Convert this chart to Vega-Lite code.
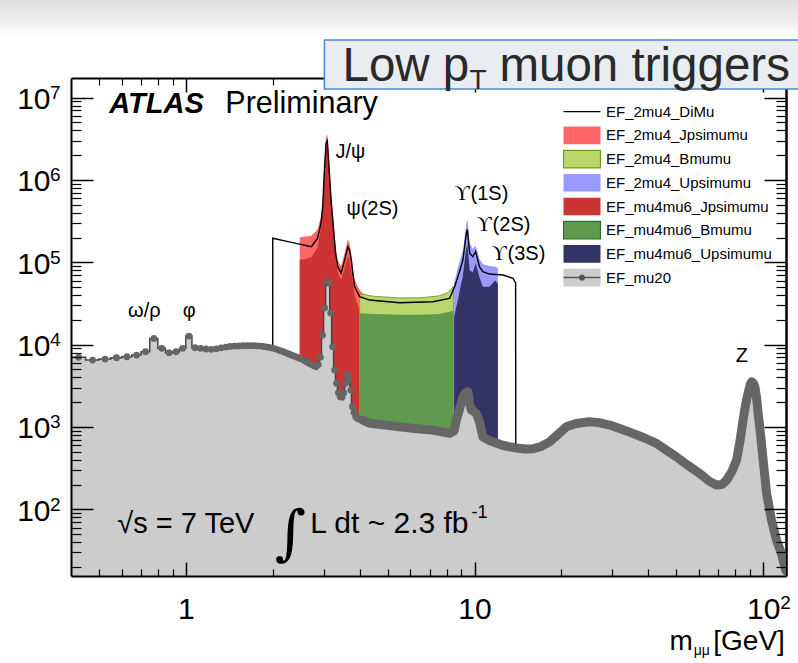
{
  "$schema": "https://vega.github.io/schema/vega-lite/v6.json",
  "width": 715,
  "height": 498,
  "autosize": {"type": "none"},
  "padding": {"left": 71, "top": 78, "right": 12, "bottom": 87},
  "background": "white",
  "config": {
    "view": {"stroke": null},
    "axis": {"grid": false, "labelFont": "Liberation Sans", "labelColor": "black", "tickColor": "black", "domainColor": "black"},
    "text": {"font": "Liberation Sans", "color": "black"}
  },
  "datasets": {
    "triggers": [
      {"trigger": "EF_2mu4_DiMu"},
      {"trigger": "EF_2mu4_Jpsimumu"},
      {"trigger": "EF_2mu4_Bmumu"},
      {"trigger": "EF_2mu4_Upsimumu"},
      {"trigger": "EF_mu4mu6_Jpsimumu"},
      {"trigger": "EF_mu4mu6_Bmumu"},
      {"trigger": "EF_mu4mu6_Upsimumu"},
      {"trigger": "EF_mu20"}
    ],
    "curves": [
      {"s": "EF_mu20", "m": 0.4, "n": 7010}, {"s": "EF_mu20", "m": 0.425, "n": 7010}, {"s": "EF_mu20", "m": 0.475, "n": 6500},
      {"s": "EF_mu20", "m": 0.525, "n": 6680}, {"s": "EF_mu20", "m": 0.575, "n": 6930}, {"s": "EF_mu20", "m": 0.625, "n": 7130},
      {"s": "EF_mu20", "m": 0.675, "n": 7480}, {"s": "EF_mu20", "m": 0.725, "n": 8200}, {"s": "EF_mu20", "m": 0.775, "n": 11900},
      {"s": "EF_mu20", "m": 0.825, "n": 9020}, {"s": "EF_mu20", "m": 0.875, "n": 7980}, {"s": "EF_mu20", "m": 0.925, "n": 8200},
      {"s": "EF_mu20", "m": 0.975, "n": 9020}, {"s": "EF_mu20", "m": 1.025, "n": 12700}, {"s": "EF_mu20", "m": 1.075, "n": 9170},
      {"s": "EF_mu20", "m": 1.125, "n": 9020}, {"s": "EF_mu20", "m": 1.175, "n": 8850}, {"s": "EF_mu20", "m": 1.225, "n": 8780},
      {"s": "EF_mu20", "m": 1.275, "n": 8900}, {"s": "EF_mu20", "m": 1.325, "n": 9150}, {"s": "EF_mu20", "m": 1.375, "n": 9350},
      {"s": "EF_mu20", "m": 1.425, "n": 9500}, {"s": "EF_mu20", "m": 1.475, "n": 9600}, {"s": "EF_mu20", "m": 1.525, "n": 9650},
      {"s": "EF_mu20", "m": 1.575, "n": 9700}, {"s": "EF_mu20", "m": 1.625, "n": 9700}, {"s": "EF_mu20", "m": 1.675, "n": 9700},
      {"s": "EF_mu20", "m": 1.725, "n": 9700}, {"s": "EF_mu20", "m": 1.775, "n": 9650}, {"s": "EF_mu20", "m": 1.825, "n": 9600},
      {"s": "EF_mu20", "m": 1.875, "n": 9450}, {"s": "EF_mu20", "m": 1.925, "n": 9300}, {"s": "EF_mu20", "m": 1.975, "n": 9150},
      {"s": "EF_mu20", "m": 2.025, "n": 8950}, {"s": "EF_mu20", "m": 2.075, "n": 8700}, {"s": "EF_mu20", "m": 2.125, "n": 8450},
      {"s": "EF_mu20", "m": 2.175, "n": 8200}, {"s": "EF_mu20", "m": 2.225, "n": 7950}, {"s": "EF_mu20", "m": 2.275, "n": 7700},
      {"s": "EF_mu20", "m": 2.325, "n": 7450}, {"s": "EF_mu20", "m": 2.375, "n": 7250}, {"s": "EF_mu20", "m": 2.425, "n": 7050},
      {"s": "EF_mu20", "m": 2.475, "n": 6850}, {"s": "EF_mu20", "m": 2.525, "n": 6650}, {"s": "EF_mu20", "m": 2.575, "n": 6400},
      {"s": "EF_mu20", "m": 2.625, "n": 6150}, {"s": "EF_mu20", "m": 2.675, "n": 5930}, {"s": "EF_mu20", "m": 2.725, "n": 5750},
      {"s": "EF_mu20", "m": 2.775, "n": 5550}, {"s": "EF_mu20", "m": 2.825, "n": 5390}, {"s": "EF_mu20", "m": 2.875, "n": 5700},
      {"s": "EF_mu20", "m": 2.925, "n": 7010}, {"s": "EF_mu20", "m": 2.975, "n": 13000}, {"s": "EF_mu20", "m": 3.025, "n": 27900},
      {"s": "EF_mu20", "m": 3.075, "n": 58100}, {"s": "EF_mu20", "m": 3.125, "n": 55600}, {"s": "EF_mu20", "m": 3.175, "n": 24200},
      {"s": "EF_mu20", "m": 3.225, "n": 9450}, {"s": "EF_mu20", "m": 3.275, "n": 4910}, {"s": "EF_mu20", "m": 3.325, "n": 3390},
      {"s": "EF_mu20", "m": 3.375, "n": 2600}, {"s": "EF_mu20", "m": 3.425, "n": 2330}, {"s": "EF_mu20", "m": 3.475, "n": 2300},
      {"s": "EF_mu20", "m": 3.525, "n": 2600}, {"s": "EF_mu20", "m": 3.575, "n": 3390}, {"s": "EF_mu20", "m": 3.625, "n": 4270},
      {"s": "EF_mu20", "m": 3.675, "n": 3720}, {"s": "EF_mu20", "m": 3.725, "n": 2810}, {"s": "EF_mu20", "m": 3.775, "n": 1760},
      {"s": "EF_mu20", "m": 3.825, "n": 1500}, {"s": "EF_mu20", "m": 3.875, "n": 1330}, {"s": "EF_mu20", "m": 3.925, "n": 1280},
      {"s": "EF_mu20", "m": 3.975, "n": 1250}, {"s": "EF_mu20", "m": 4.1, "n": 1210}, {"s": "EF_mu20", "m": 4.33, "n": 1110},
      {"s": "EF_mu20", "m": 5.0, "n": 1050}, {"s": "EF_mu20", "m": 5.5, "n": 1005}, {"s": "EF_mu20", "m": 6.2, "n": 960},
      {"s": "EF_mu20", "m": 7.17, "n": 916}, {"s": "EF_mu20", "m": 8.2, "n": 836}, {"s": "EF_mu20", "m": 8.5, "n": 900},
      {"s": "EF_mu20", "m": 8.65, "n": 1210}, {"s": "EF_mu20", "m": 8.9, "n": 1700}, {"s": "EF_mu20", "m": 9.12, "n": 2330},
      {"s": "EF_mu20", "m": 9.3, "n": 2600}, {"s": "EF_mu20", "m": 9.49, "n": 2680}, {"s": "EF_mu20", "m": 9.62, "n": 1900},
      {"s": "EF_mu20", "m": 9.75, "n": 1600}, {"s": "EF_mu20", "m": 9.95, "n": 1550}, {"s": "EF_mu20", "m": 10.14, "n": 1460},
      {"s": "EF_mu20", "m": 10.41, "n": 1155}, {"s": "EF_mu20", "m": 10.69, "n": 760}, {"s": "EF_mu20", "m": 11.3, "n": 680},
      {"s": "EF_mu20", "m": 11.9, "n": 640}, {"s": "EF_mu20", "m": 12.5, "n": 600}, {"s": "EF_mu20", "m": 13.2, "n": 575},
      {"s": "EF_mu20", "m": 14, "n": 555}, {"s": "EF_mu20", "m": 15, "n": 540}, {"s": "EF_mu20", "m": 16, "n": 545},
      {"s": "EF_mu20", "m": 17, "n": 580}, {"s": "EF_mu20", "m": 18.2, "n": 660}, {"s": "EF_mu20", "m": 19.5, "n": 820},
      {"s": "EF_mu20", "m": 20.8, "n": 1005}, {"s": "EF_mu20", "m": 22.5, "n": 1100}, {"s": "EF_mu20", "m": 25, "n": 1156},
      {"s": "EF_mu20", "m": 27, "n": 1130}, {"s": "EF_mu20", "m": 29.4, "n": 1055}, {"s": "EF_mu20", "m": 32, "n": 950},
      {"s": "EF_mu20", "m": 35.4, "n": 836}, {"s": "EF_mu20", "m": 39, "n": 730}, {"s": "EF_mu20", "m": 42.7, "n": 632},
      {"s": "EF_mu20", "m": 46, "n": 530}, {"s": "EF_mu20", "m": 50, "n": 435}, {"s": "EF_mu20", "m": 55, "n": 340},
      {"s": "EF_mu20", "m": 60.3, "n": 273}, {"s": "EF_mu20", "m": 65, "n": 220}, {"s": "EF_mu20", "m": 68.9, "n": 197},
      {"s": "EF_mu20", "m": 72, "n": 200}, {"s": "EF_mu20", "m": 74.7, "n": 226}, {"s": "EF_mu20", "m": 78, "n": 290},
      {"s": "EF_mu20", "m": 80.9, "n": 396}, {"s": "EF_mu20", "m": 83, "n": 650}, {"s": "EF_mu20", "m": 85.2, "n": 1213},
      {"s": "EF_mu20", "m": 87, "n": 1900}, {"s": "EF_mu20", "m": 88.7, "n": 2560}, {"s": "EF_mu20", "m": 90, "n": 3200},
      {"s": "EF_mu20", "m": 91.2, "n": 3540}, {"s": "EF_mu20", "m": 92.5, "n": 3400}, {"s": "EF_mu20", "m": 93.6, "n": 3080},
      {"s": "EF_mu20", "m": 95, "n": 2200}, {"s": "EF_mu20", "m": 96.1, "n": 1460}, {"s": "EF_mu20", "m": 98, "n": 800},
      {"s": "EF_mu20", "m": 100, "n": 396}, {"s": "EF_mu20", "m": 102.8, "n": 156}, {"s": "EF_mu20", "m": 106.9, "n": 74},
      {"s": "EF_mu20", "m": 111.3, "n": 42}, {"s": "EF_mu20", "m": 115.8, "n": 29}, {"s": "EF_mu20", "m": 118.9, "n": 20},
      {"s": "EF_mu20", "m": 120, "n": 18},

      {"s": "EF_2mu4_DiMu", "m": 1.999, "n": 500}, {"s": "EF_2mu4_DiMu", "m": 2.0, "n": 196000}, {"s": "EF_2mu4_DiMu", "m": 2.2, "n": 182000},
      {"s": "EF_2mu4_DiMu", "m": 2.41, "n": 170000}, {"s": "EF_2mu4_DiMu", "m": 2.72, "n": 155000}, {"s": "EF_2mu4_DiMu", "m": 2.86, "n": 196000},
      {"s": "EF_2mu4_DiMu", "m": 2.94, "n": 298000}, {"s": "EF_2mu4_DiMu", "m": 2.98, "n": 474000}, {"s": "EF_2mu4_DiMu", "m": 3.02, "n": 1320000},
      {"s": "EF_2mu4_DiMu", "m": 3.06, "n": 2790000}, {"s": "EF_2mu4_DiMu", "m": 3.09, "n": 3000000}, {"s": "EF_2mu4_DiMu", "m": 3.127, "n": 1600000},
      {"s": "EF_2mu4_DiMu", "m": 3.19, "n": 520000}, {"s": "EF_2mu4_DiMu", "m": 3.228, "n": 327000}, {"s": "EF_2mu4_DiMu", "m": 3.3, "n": 129000},
      {"s": "EF_2mu4_DiMu", "m": 3.36, "n": 88000}, {"s": "EF_2mu4_DiMu", "m": 3.45, "n": 73500}, {"s": "EF_2mu4_DiMu", "m": 3.55, "n": 107000},
      {"s": "EF_2mu4_DiMu", "m": 3.64, "n": 155000}, {"s": "EF_2mu4_DiMu", "m": 3.69, "n": 140000}, {"s": "EF_2mu4_DiMu", "m": 3.74, "n": 107000},
      {"s": "EF_2mu4_DiMu", "m": 3.84, "n": 50600}, {"s": "EF_2mu4_DiMu", "m": 4.0, "n": 38200}, {"s": "EF_2mu4_DiMu", "m": 4.33, "n": 34800},
      {"s": "EF_2mu4_DiMu", "m": 5.5, "n": 32300}, {"s": "EF_2mu4_DiMu", "m": 7.17, "n": 33200}, {"s": "EF_2mu4_DiMu", "m": 8.2, "n": 36500},
      {"s": "EF_2mu4_DiMu", "m": 8.53, "n": 50600}, {"s": "EF_2mu4_DiMu", "m": 8.76, "n": 66800}, {"s": "EF_2mu4_DiMu", "m": 9.12, "n": 107000},
      {"s": "EF_2mu4_DiMu", "m": 9.37, "n": 225000}, {"s": "EF_2mu4_DiMu", "m": 9.45, "n": 250000}, {"s": "EF_2mu4_DiMu", "m": 9.62, "n": 129000},
      {"s": "EF_2mu4_DiMu", "m": 9.87, "n": 117000}, {"s": "EF_2mu4_DiMu", "m": 10.09, "n": 135000}, {"s": "EF_2mu4_DiMu", "m": 10.41, "n": 88000},
      {"s": "EF_2mu4_DiMu", "m": 10.69, "n": 77000}, {"s": "EF_2mu4_DiMu", "m": 11.28, "n": 72000}, {"s": "EF_2mu4_DiMu", "m": 12.54, "n": 70000},
      {"s": "EF_2mu4_DiMu", "m": 13.59, "n": 64000}, {"s": "EF_2mu4_DiMu", "m": 13.88, "n": 56000}, {"s": "EF_2mu4_DiMu", "m": 13.9, "n": 500},

      {"s": "EF_2mu4_Jpsimumu", "m": 2.48, "n": 200000}, {"s": "EF_2mu4_Jpsimumu", "m": 2.6, "n": 205000}, {"s": "EF_2mu4_Jpsimumu", "m": 2.72, "n": 210000},
      {"s": "EF_2mu4_Jpsimumu", "m": 2.86, "n": 250000}, {"s": "EF_2mu4_Jpsimumu", "m": 2.94, "n": 360000}, {"s": "EF_2mu4_Jpsimumu", "m": 2.98, "n": 600000},
      {"s": "EF_2mu4_Jpsimumu", "m": 3.02, "n": 1600000}, {"s": "EF_2mu4_Jpsimumu", "m": 3.06, "n": 3300000}, {"s": "EF_2mu4_Jpsimumu", "m": 3.09, "n": 3600000},
      {"s": "EF_2mu4_Jpsimumu", "m": 3.127, "n": 2100000}, {"s": "EF_2mu4_Jpsimumu", "m": 3.19, "n": 650000}, {"s": "EF_2mu4_Jpsimumu", "m": 3.228, "n": 400000},
      {"s": "EF_2mu4_Jpsimumu", "m": 3.3, "n": 160000}, {"s": "EF_2mu4_Jpsimumu", "m": 3.36, "n": 105000}, {"s": "EF_2mu4_Jpsimumu", "m": 3.45, "n": 90000},
      {"s": "EF_2mu4_Jpsimumu", "m": 3.55, "n": 130000}, {"s": "EF_2mu4_Jpsimumu", "m": 3.64, "n": 190000}, {"s": "EF_2mu4_Jpsimumu", "m": 3.69, "n": 170000},
      {"s": "EF_2mu4_Jpsimumu", "m": 3.74, "n": 130000}, {"s": "EF_2mu4_Jpsimumu", "m": 3.84, "n": 62000}, {"s": "EF_2mu4_Jpsimumu", "m": 4.0, "n": 46000},
      {"s": "EF_2mu4_Jpsimumu", "m": 4.15, "n": 40000}, {"s": "EF_2mu4_Jpsimumu", "m": 4.3, "n": 36000},

      {"s": "EF_mu4mu6_Jpsimumu", "m": 2.48, "n": 107000}, {"s": "EF_mu4mu6_Jpsimumu", "m": 2.6, "n": 110000}, {"s": "EF_mu4mu6_Jpsimumu", "m": 2.72, "n": 115000},
      {"s": "EF_mu4mu6_Jpsimumu", "m": 2.86, "n": 150000}, {"s": "EF_mu4mu6_Jpsimumu", "m": 2.94, "n": 260000}, {"s": "EF_mu4mu6_Jpsimumu", "m": 2.98, "n": 450000},
      {"s": "EF_mu4mu6_Jpsimumu", "m": 3.02, "n": 1200000}, {"s": "EF_mu4mu6_Jpsimumu", "m": 3.06, "n": 2500000}, {"s": "EF_mu4mu6_Jpsimumu", "m": 3.09, "n": 2660000},
      {"s": "EF_mu4mu6_Jpsimumu", "m": 3.127, "n": 1500000}, {"s": "EF_mu4mu6_Jpsimumu", "m": 3.19, "n": 480000}, {"s": "EF_mu4mu6_Jpsimumu", "m": 3.228, "n": 300000},
      {"s": "EF_mu4mu6_Jpsimumu", "m": 3.3, "n": 115000}, {"s": "EF_mu4mu6_Jpsimumu", "m": 3.36, "n": 75000}, {"s": "EF_mu4mu6_Jpsimumu", "m": 3.45, "n": 62000},
      {"s": "EF_mu4mu6_Jpsimumu", "m": 3.55, "n": 85000}, {"s": "EF_mu4mu6_Jpsimumu", "m": 3.64, "n": 120000}, {"s": "EF_mu4mu6_Jpsimumu", "m": 3.69, "n": 105000},
      {"s": "EF_mu4mu6_Jpsimumu", "m": 3.74, "n": 80000}, {"s": "EF_mu4mu6_Jpsimumu", "m": 3.84, "n": 40000}, {"s": "EF_mu4mu6_Jpsimumu", "m": 4.0, "n": 26000},
      {"s": "EF_mu4mu6_Jpsimumu", "m": 4.3, "n": 20000},

      {"s": "EF_2mu4_Bmumu", "m": 4.0, "n": 40000}, {"s": "EF_2mu4_Bmumu", "m": 4.1, "n": 41000}, {"s": "EF_2mu4_Bmumu", "m": 4.5, "n": 38500},
      {"s": "EF_2mu4_Bmumu", "m": 5.5, "n": 37000}, {"s": "EF_2mu4_Bmumu", "m": 6.5, "n": 37000}, {"s": "EF_2mu4_Bmumu", "m": 7.5, "n": 39000},
      {"s": "EF_2mu4_Bmumu", "m": 8.0, "n": 42000}, {"s": "EF_2mu4_Bmumu", "m": 8.3, "n": 47000}, {"s": "EF_2mu4_Bmumu", "m": 8.45, "n": 51000},

      {"s": "EF_mu4mu6_Bmumu", "m": 4.0, "n": 24000}, {"s": "EF_mu4mu6_Bmumu", "m": 4.5, "n": 23500}, {"s": "EF_mu4mu6_Bmumu", "m": 5.5, "n": 23000},
      {"s": "EF_mu4mu6_Bmumu", "m": 6.5, "n": 23000}, {"s": "EF_mu4mu6_Bmumu", "m": 7.5, "n": 23500}, {"s": "EF_mu4mu6_Bmumu", "m": 8.0, "n": 24500},
      {"s": "EF_mu4mu6_Bmumu", "m": 8.45, "n": 26000},

      {"s": "EF_2mu4_Upsimumu", "m": 8.5, "n": 56000}, {"s": "EF_2mu4_Upsimumu", "m": 8.76, "n": 85000}, {"s": "EF_2mu4_Upsimumu", "m": 9.12, "n": 140000},
      {"s": "EF_2mu4_Upsimumu", "m": 9.37, "n": 300000}, {"s": "EF_2mu4_Upsimumu", "m": 9.45, "n": 330000}, {"s": "EF_2mu4_Upsimumu", "m": 9.62, "n": 170000},
      {"s": "EF_2mu4_Upsimumu", "m": 9.87, "n": 145000}, {"s": "EF_2mu4_Upsimumu", "m": 10.09, "n": 160000}, {"s": "EF_2mu4_Upsimumu", "m": 10.41, "n": 110000},
      {"s": "EF_2mu4_Upsimumu", "m": 10.69, "n": 95000}, {"s": "EF_2mu4_Upsimumu", "m": 11.28, "n": 90000}, {"s": "EF_2mu4_Upsimumu", "m": 11.8, "n": 88000},
      {"s": "EF_2mu4_Upsimumu", "m": 12.05, "n": 85000},

      {"s": "EF_mu4mu6_Upsimumu", "m": 8.5, "n": 22000}, {"s": "EF_mu4mu6_Upsimumu", "m": 8.76, "n": 35000}, {"s": "EF_mu4mu6_Upsimumu", "m": 9.12, "n": 70000},
      {"s": "EF_mu4mu6_Upsimumu", "m": 9.37, "n": 150000}, {"s": "EF_mu4mu6_Upsimumu", "m": 9.45, "n": 162000}, {"s": "EF_mu4mu6_Upsimumu", "m": 9.62, "n": 80000},
      {"s": "EF_mu4mu6_Upsimumu", "m": 9.87, "n": 75000}, {"s": "EF_mu4mu6_Upsimumu", "m": 10.09, "n": 98000}, {"s": "EF_mu4mu6_Upsimumu", "m": 10.41, "n": 65000},
      {"s": "EF_mu4mu6_Upsimumu", "m": 10.69, "n": 50600}, {"s": "EF_mu4mu6_Upsimumu", "m": 11.28, "n": 50600}, {"s": "EF_mu4mu6_Upsimumu", "m": 11.8, "n": 60000},
      {"s": "EF_mu4mu6_Upsimumu", "m": 12.05, "n": 55000}
    ]
  },
  "data": {"name": "curves"},
  "resolve": {"axis": {"x": "independent", "y": "independent"}, "scale": {"color": "independent"}},
  "layer": [
    {
      "data": {"values": [{}]},
      "mark": {"type": "rect", "clip": false, "fill": {"gradient": "linear", "x1": 0, "y1": 0, "x2": 0, "y2": 1, "stops": [{"offset": 0, "color": "#e0e0e0"}, {"offset": 0.6, "color": "#ececec"}, {"offset": 1, "color": "#ffffff"}]}},
      "encoding": {
        "x": {"datum": 0.2, "axis": null}, "x2": {"datum": 140},
        "y": {"datum": 160000000, "axis": null}, "y2": {"datum": 56200000}
      }
    },
    {
      "data": {"name": "triggers"},
      "mark": {"type": "point", "filled": true, "opacity": 0},
      "encoding": {
        "color": {
          "field": "trigger", "type": "nominal",
          "scale": {
            "domain": ["EF_2mu4_DiMu", "EF_2mu4_Jpsimumu", "EF_2mu4_Bmumu", "EF_2mu4_Upsimumu", "EF_mu4mu6_Jpsimumu", "EF_mu4mu6_Bmumu", "EF_mu4mu6_Upsimumu", "EF_mu20"],
            "range": ["transparent", "#ff6666", "#bcd66e", "#9999ff", "#cc3333", "#5f9a4e", "#333366", "#cccccc"]
          },
          "legend": {
            "orient": "none", "legendX": 491.75, "legendY": 23.7, "title": null, "zindex": 1,
            "labelFont": "Liberation Sans", "labelFontSize": 15, "labelColor": "black", "labelOffset": 14, "labelLimit": 400,
            "symbolSize": 342, "symbolOffset": 9.25, "clipHeight": 20, "rowPadding": 3.7, "padding": 0,
            "encode": {
              "symbols": {
                "update": {
                  "shape": [{"test": "datum.value === 'EF_2mu4_DiMu'", "value": "M-2,0H2"}, {"value": "M-2,-0.95H2V0.95H-2Z"}],
                  "stroke": [
                    {"test": "datum.value === 'EF_2mu4_DiMu'", "value": "#000000"},
                    {"test": "datum.value === 'EF_2mu4_Bmumu'", "value": "#6e9a1e"},
                    {"test": "datum.value === 'EF_mu4mu6_Bmumu'", "value": "#2d6a2d"},
                    {"value": "transparent"}
                  ],
                  "strokeWidth": {"value": 1.2},
                  "opacity": {"value": 1}
                }
              }
            }
          }
        }
      }
    },
    {
      "data": {"name": "triggers"},
      "mark": {"type": "point", "filled": true, "opacity": 0},
      "encoding": {
        "color": {
          "field": "trigger", "type": "nominal", "sort": null,
          "scale": {"range": ["transparent", "transparent", "transparent", "transparent", "transparent", "transparent", "transparent", "#555555"]},
          "legend": {
            "orient": "none", "legendX": 491.75, "legendY": 23.7, "title": null, "zindex": 2,
            "labelFont": "Liberation Sans", "labelFontSize": 15, "labelColor": "transparent", "labelOffset": 14, "labelLimit": 400,
            "symbolSize": 342, "symbolOffset": 9.25, "clipHeight": 20, "rowPadding": 3.7, "padding": 0,
            "encode": {
              "symbols": {
                "update": {
                  "shape": {"value": "M-2,-0.08H2V0.08H-2Z M0.34,0A0.34,0.34 0 1,1 -0.34,0A0.34,0.34 0 1,1 0.34,0Z"},
                  "stroke": {"value": "transparent"},
                  "opacity": {"value": 1}
                }
              }
            }
          }
        }
      }
    },
    {
      "mark": {"type": "point", "opacity": 0},
      "encoding": {
        "x": {"field": "m", "type": "quantitative", "axis": {"orient": "bottom", "values": [1, 10, 100], "labelExpr": "datum.value < 5 ? '1' : '10'", "ticks": false, "domain": true, "domainWidth": 2, "labelFontSize": 30, "labelPadding": 18, "labelFlush": false, "labelOverlap": false, "title": null, "zindex": 1}},
        "y": {"field": "n", "type": "quantitative", "axis": {"orient": "left", "values": [100, 1000, 10000, 100000, 1000000, 10000000], "labelExpr": "'10'", "ticks": false, "domain": true, "domainWidth": 2, "labelFontSize": 30, "labelPadding": 21, "labelOffset": 2, "labelOverlap": false, "labelFlush": false, "title": null, "zindex": 1}}
      }
    },
    {
      "mark": {"type": "point", "opacity": 0},
      "encoding": {
        "x": {"field": "m", "type": "quantitative", "axis": {"orient": "bottom", "values": [100], "labelExpr": "'2'", "ticks": false, "domain": false, "labelFontSize": 19, "labelPadding": 17, "labelOffset": 22, "labelFlush": false, "labelOverlap": false, "title": null, "zindex": 1}},
        "y": {"field": "n", "type": "quantitative", "axis": {"orient": "left", "values": [100, 1000, 10000, 100000, 1000000, 10000000], "labelExpr": "'' + round(log(datum.value) / LN10)", "ticks": false, "domain": false, "labelFontSize": 19, "labelPadding": 11, "labelOffset": -5, "labelOverlap": false, "labelFlush": false, "title": null, "zindex": 1}}
      }
    },
    {
      "mark": {"type": "point", "opacity": 0},
      "encoding": {
        "x": {"field": "m", "type": "quantitative", "axis": {"orient": "bottom", "values": [1, 10, 100], "labels": false, "domain": false, "tickSize": 14, "offset": -14, "tickWidth": 1.5, "title": null, "zindex": 1}},
        "y": {"field": "n", "type": "quantitative", "axis": {"orient": "left", "values": [100, 1000, 10000, 100000, 1000000, 10000000], "labels": false, "domain": false, "tickSize": 22, "offset": -22, "tickWidth": 1.5, "title": null, "zindex": 1}}
      }
    },
    {
      "mark": {"type": "point", "opacity": 0},
      "encoding": {
        "x": {"field": "m", "type": "quantitative", "axis": {"orient": "bottom", "values": [0.5, 0.6, 0.7, 0.8, 0.9, 2, 3, 4, 5, 6, 7, 8, 9, 20, 30, 40, 50, 60, 70, 80, 90], "labels": false, "domain": false, "tickSize": 7, "offset": -7, "tickWidth": 1.2, "title": null, "zindex": 1}},
        "y": {"field": "n", "type": "quantitative", "axis": {"orient": "left", "values": [20, 30, 40, 50, 60, 70, 80, 90, 200, 300, 400, 500, 600, 700, 800, 900, 2000, 3000, 4000, 5000, 6000, 7000, 8000, 9000, 20000, 30000, 40000, 50000, 60000, 70000, 80000, 90000, 200000, 300000, 400000, 500000, 600000, 700000, 800000, 900000, 2000000, 3000000, 4000000, 5000000, 6000000, 7000000, 8000000, 9000000], "labels": false, "domain": false, "tickSize": 10, "offset": -10, "tickWidth": 1.2, "title": null, "zindex": 1}}
      }
    },
    {
      "mark": {"type": "point", "opacity": 0},
      "encoding": {
        "x": {"field": "m", "type": "quantitative", "axis": {"orient": "top", "values": [1, 10, 100], "labels": false, "domain": false, "tickSize": 14, "offset": -14, "tickWidth": 1.5, "title": null, "zindex": 0}},
        "y": {"field": "n", "type": "quantitative", "axis": {"orient": "right", "values": [100, 1000, 10000, 100000, 1000000, 10000000], "labels": false, "domain": false, "tickSize": 22, "offset": -22, "tickWidth": 1.5, "title": null, "zindex": 1}}
      }
    },
    {
      "mark": {"type": "point", "opacity": 0},
      "encoding": {
        "x": {"field": "m", "type": "quantitative", "axis": {"orient": "top", "values": [0.5, 0.6, 0.7, 0.8, 0.9, 2, 3, 4, 5, 6, 7, 8, 9, 20, 30, 40, 50, 60, 70, 80, 90], "labels": false, "domain": false, "tickSize": 7, "offset": -7, "tickWidth": 1.2, "title": null, "zindex": 0}},
        "y": {"field": "n", "type": "quantitative", "axis": {"orient": "right", "values": [20, 30, 40, 50, 60, 70, 80, 90, 200, 300, 400, 500, 600, 700, 800, 900, 2000, 3000, 4000, 5000, 6000, 7000, 8000, 9000, 20000, 30000, 40000, 50000, 60000, 70000, 80000, 90000, 200000, 300000, 400000, 500000, 600000, 700000, 800000, 900000, 2000000, 3000000, 4000000, 5000000, 6000000, 7000000, 8000000, 9000000], "labels": false, "domain": false, "tickSize": 10, "offset": -10, "tickWidth": 1.2, "title": null, "zindex": 1}}
      }
    },
    {
      "mark": {"type": "point", "opacity": 0},
      "encoding": {
        "x": {"field": "m", "type": "quantitative", "axis": {"orient": "top", "values": [], "labels": false, "ticks": false, "domain": true, "domainWidth": 2, "title": null, "zindex": 0}},
        "y": {"field": "n", "type": "quantitative", "axis": {"orient": "right", "values": [], "labels": false, "ticks": false, "domain": true, "domainWidth": 2.5, "title": null, "zindex": 0}}
      }
    },
    {
      "transform": [{"filter": "datum.s === 'EF_2mu4_Jpsimumu'"}],
      "mark": {"type": "area", "color": "#ff6666", "clip": true},
      "encoding": {"x": {"field": "m", "type": "quantitative", "axis": null}, "y": {"field": "n", "type": "quantitative", "axis": null}, "y2": {"datum": 10}}
    },
    {
      "transform": [{"filter": "datum.s === 'EF_mu4mu6_Jpsimumu'"}],
      "mark": {"type": "area", "color": "#cc3333", "clip": true},
      "encoding": {"x": {"field": "m", "type": "quantitative", "axis": null}, "y": {"field": "n", "type": "quantitative", "axis": null}, "y2": {"datum": 10}}
    },
    {
      "transform": [{"filter": "datum.s === 'EF_2mu4_Upsimumu'"}],
      "mark": {"type": "area", "color": "#9999ff", "clip": true},
      "encoding": {"x": {"field": "m", "type": "quantitative", "axis": null}, "y": {"field": "n", "type": "quantitative", "axis": null}, "y2": {"datum": 10}}
    },
    {
      "transform": [{"filter": "datum.s === 'EF_mu4mu6_Upsimumu'"}],
      "mark": {"type": "area", "color": "#333366", "clip": true},
      "encoding": {"x": {"field": "m", "type": "quantitative", "axis": null}, "y": {"field": "n", "type": "quantitative", "axis": null}, "y2": {"datum": 10}}
    },
    {
      "transform": [{"filter": "datum.s === 'EF_2mu4_Bmumu'"}],
      "mark": {"type": "area", "fill": "#bcd66e", "stroke": "#7fa52a", "strokeWidth": 1, "clip": true},
      "encoding": {"x": {"field": "m", "type": "quantitative", "axis": null}, "y": {"field": "n", "type": "quantitative", "axis": null}, "y2": {"datum": 10}}
    },
    {
      "transform": [{"filter": "datum.s === 'EF_mu4mu6_Bmumu'"}],
      "mark": {"type": "area", "fill": "#5f9a4e", "clip": true},
      "encoding": {"x": {"field": "m", "type": "quantitative", "axis": null}, "y": {"field": "n", "type": "quantitative", "axis": null}, "y2": {"datum": 10}}
    },
    {
      "transform": [{"filter": "datum.s === 'EF_2mu4_DiMu'"}],
      "mark": {"type": "line", "color": "#000000", "strokeWidth": 1.4, "clip": true},
      "encoding": {"x": {"field": "m", "type": "quantitative", "axis": null}, "y": {"field": "n", "type": "quantitative", "axis": null}}
    },
    {
      "transform": [{"filter": "datum.s === 'EF_mu20' && datum.m <= 4.33"}],
      "mark": {"type": "area", "interpolate": "step", "color": "#cccccc", "clip": true},
      "encoding": {
        "x": {"field": "m", "type": "quantitative", "scale": {"type": "log", "domain": [0.4, 120], "nice": false, "zero": false}, "axis": null},
        "y": {"field": "n", "type": "quantitative", "scale": {"type": "log", "domain": [15.5, 17300000], "nice": false, "zero": false}, "axis": null},
        "y2": {"datum": 10}
      }
    },
    {
      "transform": [{"filter": "datum.s === 'EF_mu20' && datum.m >= 4.1"}],
      "mark": {"type": "area", "color": "#cccccc", "clip": true},
      "encoding": {"x": {"field": "m", "type": "quantitative", "axis": null}, "y": {"field": "n", "type": "quantitative", "axis": null}, "y2": {"datum": 10}}
    },
    {
      "transform": [{"filter": "datum.s === 'EF_mu20' && datum.m <= 4.1"}],
      "mark": {"type": "line", "interpolate": "step", "color": "#444444", "strokeWidth": 1.5, "clip": true},
      "encoding": {"x": {"field": "m", "type": "quantitative", "axis": null}, "y": {"field": "n", "type": "quantitative", "axis": null}}
    },
    {
      "transform": [{"filter": "datum.s === 'EF_mu20' && datum.m >= 4.1"}],
      "mark": {"type": "line", "color": "#666666", "strokeWidth": 9, "strokeCap": "round", "strokeJoin": "round", "clip": true},
      "encoding": {"x": {"field": "m", "type": "quantitative", "axis": null}, "y": {"field": "n", "type": "quantitative", "axis": null}}
    },
    {
      "transform": [{"filter": "datum.s === 'EF_mu20' && datum.m > 0.41 && datum.m <= 4.1"}],
      "mark": {"type": "point", "filled": true, "color": "#666666", "opacity": 1, "size": 46, "clip": true},
      "encoding": {"x": {"field": "m", "type": "quantitative", "axis": null}, "y": {"field": "n", "type": "quantitative", "axis": null}}
    },
    {
      "data": {"values": [{}]},
      "mark": {"type": "text", "text": "ω/ρ", "fontSize": 20, "align": "center", "baseline": "alphabetic"},
      "encoding": {"x": {"datum": 0.718, "axis": null}, "y": {"datum": 21640, "axis": null}}
    },
    {
      "data": {"values": [{}]},
      "mark": {"type": "text", "text": "φ", "fontSize": 20, "align": "center", "baseline": "alphabetic"},
      "encoding": {"x": {"datum": 1.028, "axis": null}, "y": {"datum": 21640, "axis": null}}
    },
    {
      "data": {"values": [{}]},
      "mark": {"type": "text", "text": "J/ψ", "fontSize": 20, "align": "left", "baseline": "alphabetic"},
      "encoding": {"x": {"datum": 3.3, "axis": null}, "y": {"datum": 1850000, "axis": null}}
    },
    {
      "data": {"values": [{}]},
      "mark": {"type": "text", "text": "ψ(2S)", "fontSize": 20, "align": "left", "baseline": "alphabetic"},
      "encoding": {"x": {"datum": 3.6, "axis": null}, "y": {"datum": 375600, "axis": null}}
    },
    {
      "data": {"values": [{}]},
      "mark": {"type": "text", "text": "ϒ", "font": "Liberation Serif", "fontSize": 21, "align": "left", "baseline": "alphabetic"},
      "encoding": {"x": {"datum": 8.53, "axis": null}, "y": {"datum": 571000, "axis": null}}
    },
    {
      "data": {"values": [{}]},
      "mark": {"type": "text", "text": "(1S)", "fontSize": 20, "align": "left", "baseline": "alphabetic", "dx": 16},
      "encoding": {"x": {"datum": 8.53, "axis": null}, "y": {"datum": 571000, "axis": null}}
    },
    {
      "data": {"values": [{}]},
      "mark": {"type": "text", "text": "ϒ", "font": "Liberation Serif", "fontSize": 21, "align": "left", "baseline": "alphabetic"},
      "encoding": {"x": {"datum": 10.17, "axis": null}, "y": {"datum": 240000, "axis": null}}
    },
    {
      "data": {"values": [{}]},
      "mark": {"type": "text", "text": "(2S)", "fontSize": 20, "align": "left", "baseline": "alphabetic", "dx": 16},
      "encoding": {"x": {"datum": 10.17, "axis": null}, "y": {"datum": 240000, "axis": null}}
    },
    {
      "data": {"values": [{}]},
      "mark": {"type": "text", "text": "ϒ", "font": "Liberation Serif", "fontSize": 21, "align": "left", "baseline": "alphabetic"},
      "encoding": {"x": {"datum": 11.46, "axis": null}, "y": {"datum": 106700, "axis": null}}
    },
    {
      "data": {"values": [{}]},
      "mark": {"type": "text", "text": "(3S)", "fontSize": 20, "align": "left", "baseline": "alphabetic", "dx": 16},
      "encoding": {"x": {"datum": 11.46, "axis": null}, "y": {"datum": 106700, "axis": null}}
    },
    {
      "data": {"values": [{}]},
      "mark": {"type": "text", "text": "Z", "fontSize": 20, "align": "center", "baseline": "alphabetic"},
      "encoding": {"x": {"datum": 84.4, "axis": null}, "y": {"datum": 6145, "axis": null}}
    },
    {
      "data": {"values": [{}]},
      "mark": {"type": "text", "text": "ATLAS", "fontSize": 29, "fontWeight": "bold", "fontStyle": "italic", "align": "left", "baseline": "alphabetic"},
      "encoding": {"x": {"datum": 0.543, "axis": null}, "y": {"datum": 6520000, "axis": null}}
    },
    {
      "data": {"values": [{}]},
      "mark": {"type": "text", "text": "Preliminary", "fontSize": 30.5, "align": "left", "baseline": "alphabetic"},
      "encoding": {"x": {"datum": 1.37, "axis": null}, "y": {"datum": 6520000, "axis": null}}
    },
    {
      "data": {"values": [{}]},
      "mark": {"type": "text", "text": "√s = 7 TeV", "fontSize": 29, "align": "left", "baseline": "alphabetic"},
      "encoding": {"x": {"datum": 0.579, "axis": null}, "y": {"datum": 51.4, "axis": null}}
    },
    {
      "data": {"values": [{}]},
      "mark": {"type": "text", "text": "∫", "font": "DejaVu Serif", "fontSize": 60, "align": "left", "baseline": "alphabetic"},
      "encoding": {"x": {"datum": 2.027, "axis": null}, "y": {"datum": 29.4, "axis": null}}
    },
    {
      "data": {"values": [{}]},
      "mark": {"type": "text", "text": "L dt ~ 2.3 fb", "fontSize": 30, "align": "left", "baseline": "alphabetic"},
      "encoding": {"x": {"datum": 2.7, "axis": null}, "y": {"datum": 51.4, "axis": null}}
    },
    {
      "data": {"values": [{}]},
      "mark": {"type": "text", "text": "-1", "fontSize": 18, "align": "left", "baseline": "alphabetic"},
      "encoding": {"x": {"datum": 9.77, "axis": null}, "y": {"datum": 78, "axis": null}}
    },
    {
      "data": {"values": [{}]},
      "mark": {"type": "text", "text": "[GeV]", "fontSize": 28, "align": "right", "baseline": "alphabetic", "clip": false},
      "encoding": {"x": {"datum": 118.9, "axis": null}, "y": {"datum": 1.945, "axis": null}}
    },
    {
      "data": {"values": [{}]},
      "mark": {"type": "text", "text": "μμ", "fontSize": 14, "align": "right", "baseline": "alphabetic", "dx": -75, "dy": 5, "clip": false},
      "encoding": {"x": {"datum": 118.9, "axis": null}, "y": {"datum": 1.945, "axis": null}}
    },
    {
      "data": {"values": [{}]},
      "mark": {"type": "text", "text": "m", "fontSize": 28, "align": "right", "baseline": "alphabetic", "dx": -92, "clip": false},
      "encoding": {"x": {"datum": 118.9, "axis": null}, "y": {"datum": 1.945, "axis": null}}
    },
    {
      "data": {"values": [{}]},
      "mark": {"type": "rect", "fill": "#e9ecf1", "stroke": "#4f86d8", "strokeWidth": 1.5, "clip": false},
      "encoding": {
        "x": {"datum": 3.02, "axis": null}, "x2": {"datum": 140},
        "y": {"datum": 50200000, "axis": null}, "y2": {"datum": 12760000}
      }
    },
    {
      "data": {"values": [{}]},
      "mark": {"type": "text", "text": "Low p", "fontSize": 47.5, "color": "#2a2a2a", "align": "left", "baseline": "alphabetic", "clip": false},
      "encoding": {"x": {"datum": 3.488, "axis": null}, "y": {"datum": 16000000, "axis": null}}
    },
    {
      "data": {"values": [{}]},
      "mark": {"type": "text", "text": "T", "fontSize": 28, "color": "#2a2a2a", "align": "left", "baseline": "alphabetic", "dx": 127, "dy": 8, "clip": false},
      "encoding": {"x": {"datum": 3.488, "axis": null}, "y": {"datum": 16000000, "axis": null}}
    },
    {
      "data": {"values": [{}]},
      "mark": {"type": "text", "text": "muon triggers", "fontSize": 47.5, "color": "#2a2a2a", "align": "left", "baseline": "alphabetic", "dx": 157, "clip": false},
      "encoding": {"x": {"datum": 3.488, "axis": null}, "y": {"datum": 16000000, "axis": null}}
    }
  ]
}
